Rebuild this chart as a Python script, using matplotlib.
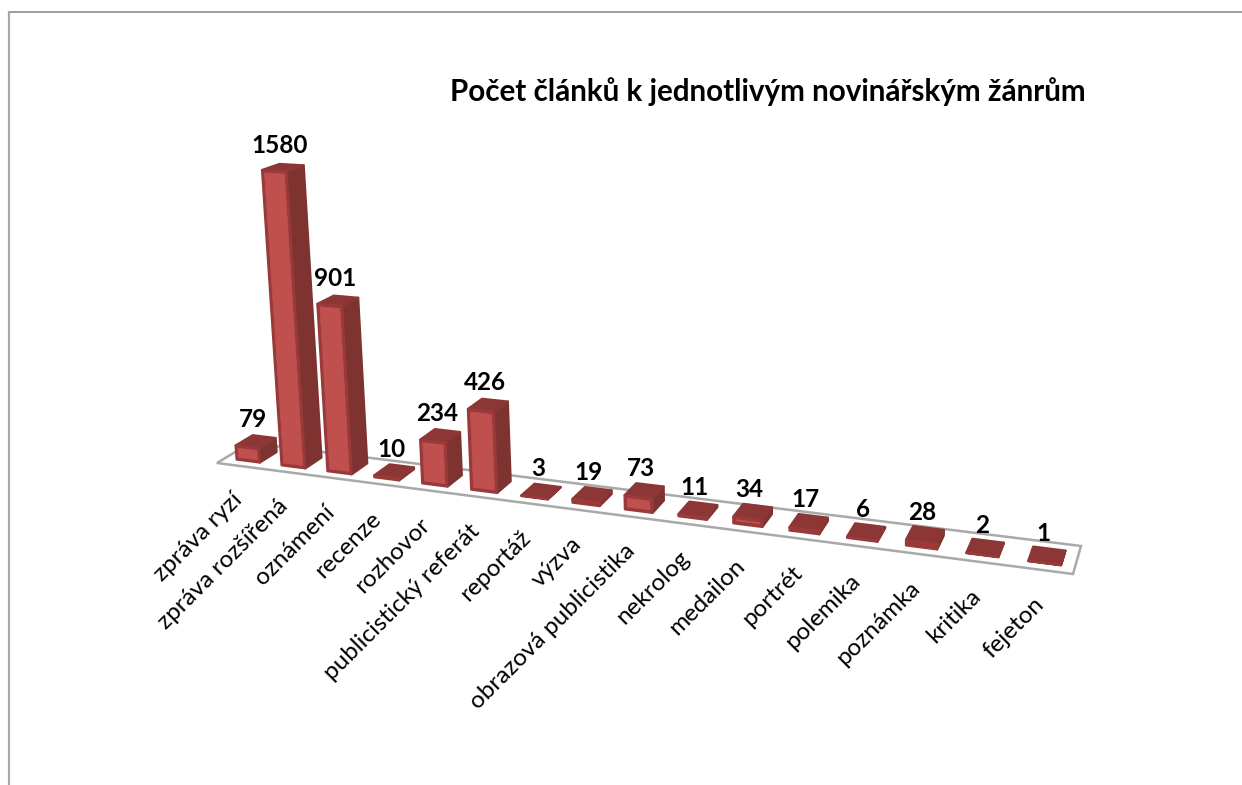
"""Počet článků podle novinářského žánru, imitace 3D sloupců z Excelu."""

import numpy as np
import matplotlib
matplotlib.use('Agg')
import matplotlib.pyplot as plt
from matplotlib.patches import Polygon

TITLE = 'Počet článků k jednotlivým novinářským žánrům'
GENRES = [
    'zpráva ryzí', 'zpráva rozšířená', 'oznámení', 'recenze', 'rozhovor',
    'publicistický referát', 'reportáž', 'výzva', 'obrazová publicistika',
    'nekrolog', 'medailon', 'portrét', 'polemika', 'poznámka', 'kritika',
    'fejeton',
]
COUNTS = [79, 1580, 901, 10, 234, 426, 3, 19, 73, 11, 34, 17, 6, 28, 2, 1]

FRONT = '#C0504D'
BEVEL = '#99393A'
SIDE = '#7E3331'
TOP = '#8C3735'
FLOOR_EDGE = '#A9A9A9'

# floor corners in pixels: (u, v) -> (x, y)
FLOOR_UV = [(0, 0), (16, 0), (16, 1), (0, 1)]
FLOOR_XY = [(217, 463), (1073, 574), (1081, 546), (250, 443)]
VANISH_Y = 8000.0
VANISH_X = 780.0
PX_PER_UNIT = 300 / 1580


def floor_matrix():
    rows, rhs = [], []
    for (u, v), (x, y) in zip(FLOOR_UV, FLOOR_XY):
        rows.append([u, v, 1, 0, 0, 0, -u * x, -v * x])
        rows.append([0, 0, 0, u, v, 1, -u * y, -v * y])
        rhs += [x, y]
    h = np.linalg.solve(np.array(rows, float), np.array(rhs, float))
    return np.append(h, 1).reshape(3, 3)


H = floor_matrix()
A = -PX_PER_UNIT / VANISH_Y


def project(u, v, z=0):
    X, Y, W = H @ np.array([u, v, 1.0])
    W_z = W + z * A
    return ((X + z * A * VANISH_X) / W_z, (Y + z * A * VANISH_Y) / W_z)


def face(ax, points, color, order, edge=None, lw=1.6):
    ax.add_patch(Polygon(
        [project(*p) for p in points], closed=True, facecolor=color,
        edgecolor=edge or color, linewidth=lw, joinstyle='round', zorder=order,
    ))


def draw_bar(ax, i, value):
    u0, u1 = i + 0.26, i + 0.78
    v0, v1 = 0.24, 0.76
    order = 3 + i
    face(ax, [(u1, v0, 0), (u1, v1, 0), (u1, v1, value), (u1, v0, value)],
         SIDE, order)
    face(ax, [(u0, v0, value), (u1, v0, value), (u1, v1, value), (u0, v1, value)],
         TOP, order)
    face(ax, [(u0, v0, 0), (u1, v0, 0), (u1, v0, value), (u0, v0, value)],
         BEVEL, order)
    inset = 14
    if value > 2 * inset:
        face(ax, [(u0 + 0.05, v0, inset), (u1 - 0.05, v0, inset),
                  (u1 - 0.05, v0, value - inset), (u0 + 0.05, v0, value - inset)],
             FRONT, order, lw=0.5)


def main():
    plt.rcParams['font.family'] = ['Lato', 'DejaVu Sans']
    fig = plt.figure(figsize=(12.42, 7.85), dpi=100)
    ax = fig.add_axes([0, 0, 1, 1])
    ax.set_xlim(0, 1242)
    ax.set_ylim(785, 0)
    ax.axis('off')

    # outer chart frame, only top and left are inside the crop
    ax.plot([9, 1242], [12, 12], color='#8C8C8C', lw=1.2)
    ax.plot([9, 9], [12, 785], color='#A8A8A8', lw=1.6)

    ax.add_patch(Polygon(
        FLOOR_XY, closed=True, facecolor='white', edgecolor=FLOOR_EDGE,
        linewidth=1.8, zorder=2,
    ))

    for i, value in enumerate(COUNTS):
        draw_bar(ax, i, value)
        x_top, y_top = project(i + 0.5, 0.5, value)
        ax.annotate(
            str(value), (x_top, y_top), xytext=(-1.5, 16), textcoords='offset points',
            ha='center', va='center', fontsize=17.5, fontweight='bold',
            color='black', zorder=30,
        )
        x_edge, y_edge = project(i + 0.5, 0)
        ax.text(
            x_edge - 0.5, y_edge + 31, GENRES[i], rotation=45, rotation_mode='anchor',
            ha='right', va='center', fontsize=17.5, color='black', zorder=30,
        )

    ax.text(768, 92, TITLE, ha='center', va='center', fontsize=21.3,
            fontweight='bold', color='black')
    fig.savefig('out.png', dpi=100)


if __name__ == '__main__':
    main()
